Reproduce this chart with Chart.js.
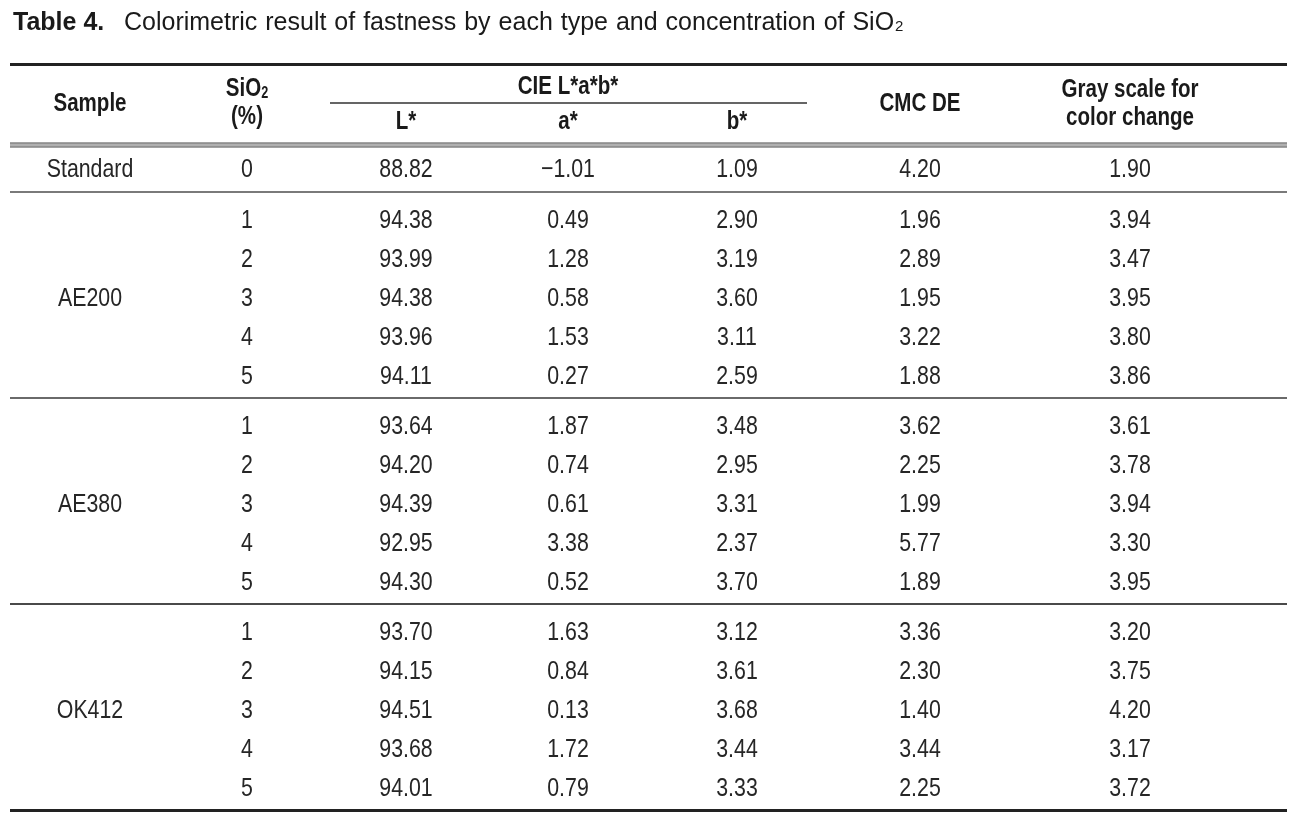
<!DOCTYPE html>
<html>
<head>
<meta charset="utf-8">
<script src="https://cdn.jsdelivr.net/npm/chart.js@4.4.1/dist/chart.umd.min.js"></script>
<style>
  html, body { margin: 0; padding: 0; background: #ffffff; }
  #wrap { position: relative; width: 1306px; height: 813px; }
  canvas { display: block; }
</style>
</head>
<body>
<div id="wrap"><canvas id="c" width="1306" height="813"></canvas></div>
<script>
const samples = ['Standard', 'AE200', 'AE380', 'OK412'];
const sio2 = [0, 1, 2, 3, 4, 5, 1, 2, 3, 4, 5, 1, 2, 3, 4, 5];
const Lstar = [88.82, 94.38, 93.99, 94.38, 93.96, 94.11, 93.64, 94.20, 94.39, 92.95, 94.30, 93.70, 94.15, 94.51, 93.68, 94.01];
const astar = [-1.01, 0.49, 1.28, 0.58, 1.53, 0.27, 1.87, 0.74, 0.61, 3.38, 0.52, 1.63, 0.84, 0.13, 1.72, 0.79];
const bstar = [1.09, 2.90, 3.19, 3.60, 3.11, 2.59, 3.48, 2.95, 3.31, 2.37, 3.70, 3.12, 3.61, 3.68, 3.44, 3.33];
const cmcDE = [4.20, 1.96, 2.89, 1.95, 3.22, 1.88, 3.62, 2.25, 1.99, 5.77, 1.89, 3.36, 2.30, 1.40, 3.44, 2.25];
const grayScale = [1.90, 3.94, 3.47, 3.95, 3.80, 3.86, 3.61, 3.78, 3.94, 3.30, 3.95, 3.20, 3.75, 4.20, 3.17, 3.72];
const titleBold = 'Table 4.';
const titleText = 'Colorimetric result of fastness by each type and concentration of SiO';

// ---- Layout (table geometry in scale units = px) ----
const colX = { sample: 90, sio2: 247, L: 406, a: 568, b: 737, cmc: 920, gray: 1130 };
const tableLeft = 10, tableRight = 1287;
const ruleTop = 64.5, ruleHead = 145, ruleBottom = 810.5;
const stdRowY = 169, stdRule = 192, groupSpan = 206, firstOffset = 28, rowPitch = 39;
function rowY(i) {
  if (i === 0) return stdRowY;
  const g = Math.floor((i - 1) / 5), k = (i - 1) % 5;
  return stdRule + g * groupSpan + firstOffset + k * rowPitch;
}
function groupRule(g) { return stdRule + g * groupSpan; }

const fmt = v => (v < 0 ? '\u2212' + Math.abs(v).toFixed(2) : v.toFixed(2));
const FAMILY = '"Liberation Sans", Arial, Helvetica, sans-serif';
const BODY_FONT = '26px ' + FAMILY;
const HEAD_FONT = 'bold 26px ' + FAMILY;
const SUB_FONT = 'bold 16px ' + FAMILY;
const BODY_NARROW = 0.82, HEAD_NARROW = 0.79;
const TEXT = '#262626';

function colDataset(key, values, formatter) {
  return {
    label: key,
    data: values.map((v, i) => ({ x: colX[key], y: rowY(i) })),
    texts: values.map(formatter),
    pointRadius: 0, pointHoverRadius: 0, showLine: false
  };
}
const sampleRows = [0, 3, 8, 13];
const datasets = [
  {
    label: 'sample',
    data: sampleRows.map(r => ({ x: colX.sample, y: rowY(r) })),
    texts: samples,
    pointRadius: 0, pointHoverRadius: 0, showLine: false
  },
  colDataset('sio2', sio2, v => String(v)),
  colDataset('L', Lstar, fmt),
  colDataset('a', astar, fmt),
  colDataset('b', bstar, fmt),
  colDataset('cmc', cmcDE, fmt),
  colDataset('gray', grayScale, fmt)
];

// draw condensed text (Helvetica-Condensed-like) by horizontal scaling
function nText(ctx, text, x, y, font, sx, align) {
  ctx.save();
  ctx.font = font;
  ctx.translate(x, y);
  ctx.scale(sx, 1);
  ctx.textAlign = align || 'center';
  ctx.fillText(text, 0, 0);
  ctx.restore();
}
function nWidth(ctx, text, font, sx) {
  ctx.save(); ctx.font = font;
  const w = ctx.measureText(text).width * sx;
  ctx.restore();
  return w;
}

const tablePlugin = {
  id: 'tablePlugin',
  afterDatasetsDraw(chart) {
    const ctx = chart.ctx;
    const xs = chart.scales.x, ys = chart.scales.y;
    const X = v => xs.getPixelForValue(v), Y = v => ys.getPixelForValue(v);
    ctx.save();

    // Title
    ctx.fillStyle = '#1a1a1a';
    ctx.textBaseline = 'alphabetic';
    ctx.textAlign = 'left';
    ctx.font = 'bold 25px ' + FAMILY;
    ctx.fillText(titleBold, X(13), Y(30));
    ctx.font = '25px ' + FAMILY;
    if ('wordSpacing' in ctx) ctx.wordSpacing = '1px';
    const tx = X(124);
    ctx.fillText(titleText, tx, Y(30));
    const tw = ctx.measureText(titleText).width;
    if ('wordSpacing' in ctx) ctx.wordSpacing = '0px';
    ctx.font = '15px ' + FAMILY;
    ctx.fillText('2', tx + tw + 1, Y(31));

    // Rules
    const hline = (y, h, color) => {
      ctx.fillStyle = color;
      ctx.fillRect(X(tableLeft), Y(y) - h / 2, X(tableRight) - X(tableLeft), h);
    };
    hline(ruleTop, 3, '#222222');
    hline(ruleHead, 5, '#b0b0b0');
    hline(ruleHead - 2, 1, '#707070');
    hline(ruleHead + 2, 1, '#707070');
    hline(stdRule, 2, '#7a7a7a');
    hline(groupRule(1), 2, '#6a6a6a');
    hline(groupRule(2), 2, '#4a4a4a');
    hline(ruleBottom, 3, '#222222');
    ctx.fillStyle = '#333333';
    ctx.fillRect(X(330), Y(103) - 0.75, X(807) - X(330), 1.5);

    // Header text
    ctx.fillStyle = '#1a1a1a';
    ctx.textBaseline = 'middle';
    const H = HEAD_NARROW;
    nText(ctx, 'Sample', X(colX.sample), Y(104), HEAD_FONT, H);
    const siW = nWidth(ctx, 'SiO', HEAD_FONT, H), subW = nWidth(ctx, '2', SUB_FONT, H);
    const sx = X(colX.sio2) - (siW + subW) / 2;
    nText(ctx, 'SiO', sx, Y(89), HEAD_FONT, H, 'left');
    nText(ctx, '2', sx + siW, Y(94), SUB_FONT, H, 'left');
    nText(ctx, '(%)', X(colX.sio2), Y(117), HEAD_FONT, H);
    nText(ctx, 'CIE L*a*b*', X(colX.a), Y(87), HEAD_FONT, H);
    nText(ctx, 'L*', X(colX.L), Y(122), HEAD_FONT, H);
    nText(ctx, 'a*', X(colX.a), Y(122), HEAD_FONT, H);
    nText(ctx, 'b*', X(colX.b), Y(122), HEAD_FONT, H);
    nText(ctx, 'CMC DE', X(colX.cmc), Y(104), HEAD_FONT, H);
    nText(ctx, 'Gray scale for', X(colX.gray), Y(90), HEAD_FONT, H);
    nText(ctx, 'color change', X(colX.gray), Y(118), HEAD_FONT, H);

    // Body cells, placed at the dataset points
    ctx.fillStyle = TEXT;
    chart.data.datasets.forEach((ds, di) => {
      const meta = chart.getDatasetMeta(di);
      meta.data.forEach((el, i) => {
        nText(ctx, ds.texts[i], el.x, el.y + 1, BODY_FONT, BODY_NARROW);
      });
    });
    ctx.restore();
  }
};

new Chart(document.getElementById('c'), {
  type: 'scatter',
  data: { datasets },
  options: {
    responsive: false,
    devicePixelRatio: 1,
    animation: false,
    events: [],
    layout: { padding: 0 },
    plugins: { legend: { display: false }, tooltip: { enabled: false }, title: { display: false } },
    scales: {
      x: { type: 'linear', display: false, min: 0, max: 1306 },
      y: { type: 'linear', display: false, min: 0, max: 813, reverse: true }
    }
  },
  plugins: [tablePlugin]
});
</script>
</body>
</html>
